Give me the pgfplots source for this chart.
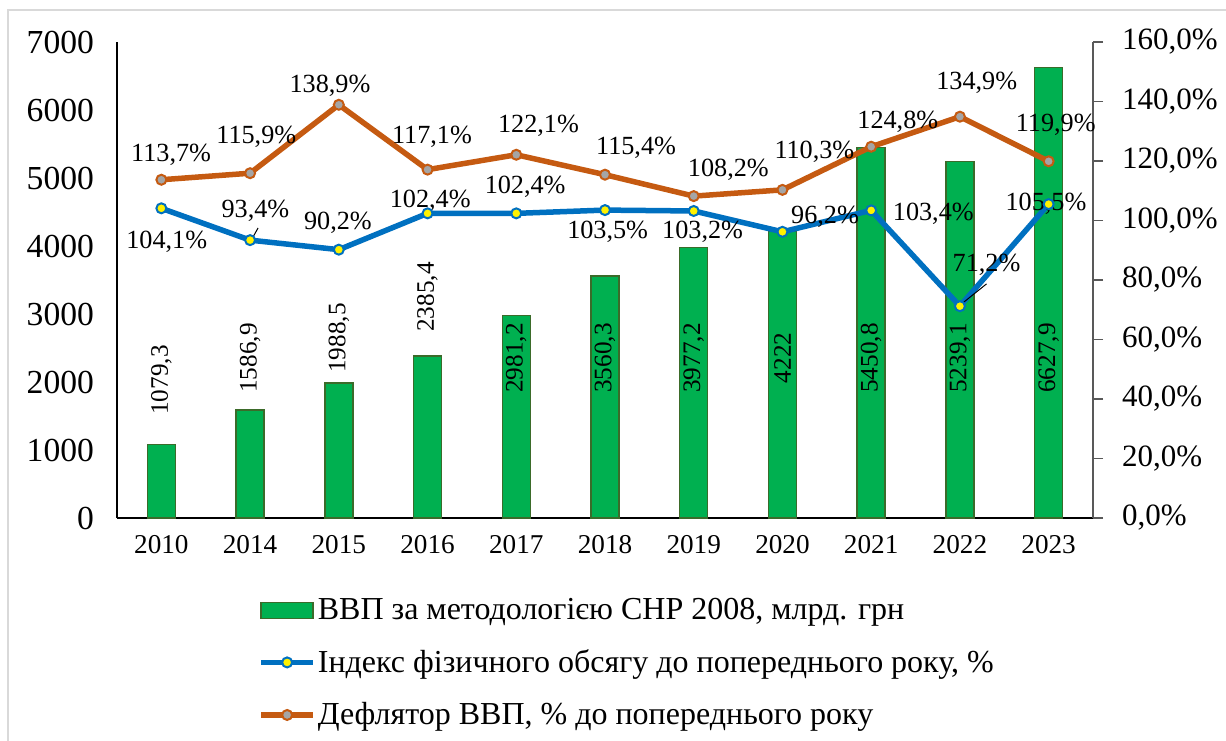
\documentclass[border=0pt]{standalone}
\usepackage{pgfplots}
\usepackage{pgfplotstable}
\pgfplotsset{compat=1.18}
\usepackage{fontspec}
\setmainfont{Liberation Serif}
\definecolor{barg}{HTML}{00B050}
\definecolor{bard}{HTML}{3B6B2A}
\definecolor{lblue}{HTML}{0070C0}
\definecolor{lorange}{HTML}{C55A11}
\definecolor{mgray}{HTML}{A5A5A5}
\definecolor{framec}{HTML}{D9D9D9}
\definecolor{raxis}{HTML}{595959}

\pgfplotstableread{
x gdp idx defl
0 1079.3 104.1 113.7
1 1586.9 93.4 115.9
2 1988.5 90.2 138.9
3 2385.4 102.4 117.1
4 2981.2 102.4 122.1
5 3560.3 103.5 115.4
6 3977.2 103.2 108.2
7 4222 96.2 110.3
8 5450.8 103.4 124.8
9 5239.1 71.2 134.9
10 6627.9 105.5 119.9
}\data

\begin{document}
\begin{tikzpicture}
\useasboundingbox (0,0) rectangle (613pt,370pt);
\draw[framec, line width=0.8pt] (4pt,-20pt) -- (4pt,365pt) -- (640pt,365pt);
\begin{axis}[
  at={(58.5pt,111pt)}, anchor=south west,
  scale only axis, width=488pt, height=238pt,
  xmin=-0.5, xmax=10.5, ymin=0, ymax=7000,
  axis x line*=bottom, axis y line*=left,
  axis line style={-, black, line width=0.6pt},
  xtick={0,...,10},
  xticklabels={2010,2014,2015,2016,2017,2018,2019,2020,2021,2022,2023},
  ytick={0,1000,...,7000},
  major tick length=0pt,
  tick style={draw=none},
  /pgf/number format/assume math mode=true,
  /pgf/number format/1000 sep={},
  yticklabel style={font=\fontsize{16.8}{19}\selectfont, xshift=-8pt},
  xticklabel style={font=\fontsize{13.6}{16}\selectfont, yshift=-5pt},
  ybar, bar width=14pt,
  clip=false,
]
\addplot[fill=barg, draw=bard, line width=0.75pt] table[x=x,y=gdp]{\data};
\begin{scope}[every node/.style={rotate=90, font=\fontsize{12.6}{14}\selectfont, inner sep=0pt}]
\node at (axis cs:0,2029) {1079,3};
\node at (axis cs:1,2353) {1586,9};
\node at (axis cs:2,2647) {1988,5};
\node at (axis cs:3,3250) {2385,4};
\node at (axis cs:4,2353) {2981,2};
\node at (axis cs:5,2353) {3560,3};
\node at (axis cs:6,2353) {3977,2};
\node at (axis cs:7,2353) {4222};
\node at (axis cs:8,2353) {5450,8};
\node at (axis cs:9,2353) {5239,1};
\node at (axis cs:10,2353) {6627,9};
\end{scope}
\end{axis}
\begin{axis}[
  at={(58.5pt,111pt)}, anchor=south west,
  scale only axis, width=488pt, height=238pt,
  xmin=-0.5, xmax=10.5, ymin=0, ymax=160,
  axis x line=none, axis y line*=right,
  axis line style={-, raxis, line width=0.6pt},
  ytick={0,20,...,160},
  /pgf/number format/assume math mode=true,
  yticklabel={\pgfmathprintnumber[fixed,fixed zerofill,precision=1,use comma]{\tick}\%},
  tick align=outside, major tick length=5pt,
  tick style={raxis, line width=0.6pt},
  yticklabel style={font=\fontsize{15.5}{18}\selectfont, xshift=6pt},
  clip=false,
  legend cell align=left,
  legend style={draw=none, fill=none, at={(0.1383,-0.155)}, anchor=north west,
    font=\fontsize{16}{18}\selectfont, row sep=11.5pt, nodes={inner sep=1pt},
    /tikz/every odd column/.append style={column sep=0pt}},
]
\addlegendimage{legend image code/.code={\draw[fill=barg,draw=bard,line width=0.75pt] (0pt,-4pt) rectangle (26pt,4pt);}}
\addlegendentry{ВВП за методологією СНР 2008, млрд. грн}
\addplot[lblue, line width=2.75pt, mark=*, mark size=2.5pt,
  mark options={fill=yellow, draw=lblue, line width=1pt},
  legend image code/.code={\draw[lblue,line width=2.75pt] (0pt,0pt) -- (26pt,0pt); \draw[fill=yellow,draw=lblue,line width=1pt] (13pt,0pt) circle (2.5pt);}]
  table[x=x,y=idx]{\data};
\addlegendentry{Індекс фізичного обсягу до попереднього року, \%}
\addplot[lorange, line width=2.75pt, mark=*, mark size=2.5pt,
  mark options={fill=mgray, draw=lorange, line width=1pt},
  legend image code/.code={\draw[lorange,line width=2.75pt] (0pt,0pt) -- (26pt,0pt); \draw[fill=mgray,draw=lorange,line width=1pt] (13pt,0pt) circle (2.5pt);}]
  table[x=x,y=defl]{\data};
\addlegendentry{Дефлятор ВВП, \% до попереднього року}
\begin{scope}[every node/.style={font=\fontsize{13.1}{15}\selectfont, inner sep=0pt}]
\node at (axis cs:0.11,122.0) {113,7\%};
\node at (axis cs:1.07,128.1) {115,9\%};
\node at (axis cs:1.90,145.2) {138,9\%};
\node at (axis cs:3.05,128.1) {117,1\%};
\node at (axis cs:4.25,131.8) {122,1\%};
\node at (axis cs:5.35,124.4) {115,4\%};
\node at (axis cs:6.39,116.9) {108,2\%};
\node at (axis cs:7.36,123.0) {110,3\%};
\node at (axis cs:8.30,133.1) {124,8\%};
\node at (axis cs:9.19,146.2) {134,9\%};
\node at (axis cs:10.08,132.1) {119,9\%};
\node at (axis cs:0.06,92.8) {104,1\%};
\node at (axis cs:1.06,103.2) {93,4\%};
\node at (axis cs:1.99,99.2) {90,2\%};
\node at (axis cs:3.03,106.6) {102,4\%};
\node at (axis cs:4.10,111.3) {102,4\%};
\node at (axis cs:5.03,96.1) {103,5\%};
\node at (axis cs:6.10,96.1) {103,2\%};
\node at (axis cs:7.48,101.2) {96,2\%};
\node at (axis cs:8.70,102.2) {103,4\%};
\node at (axis cs:9.30,85.0) {71,2\%};
\node at (axis cs:9.97,105.5) {105,5\%};
\end{scope}
\draw[black, line width=0.5pt] (axis cs:1.03,94.3) -- (axis cs:1.09,97.5);
\draw[black, line width=0.5pt] (axis cs:9.02,72.0) -- (axis cs:9.30,78.7);
\end{axis}
\end{tikzpicture}
\end{document}
